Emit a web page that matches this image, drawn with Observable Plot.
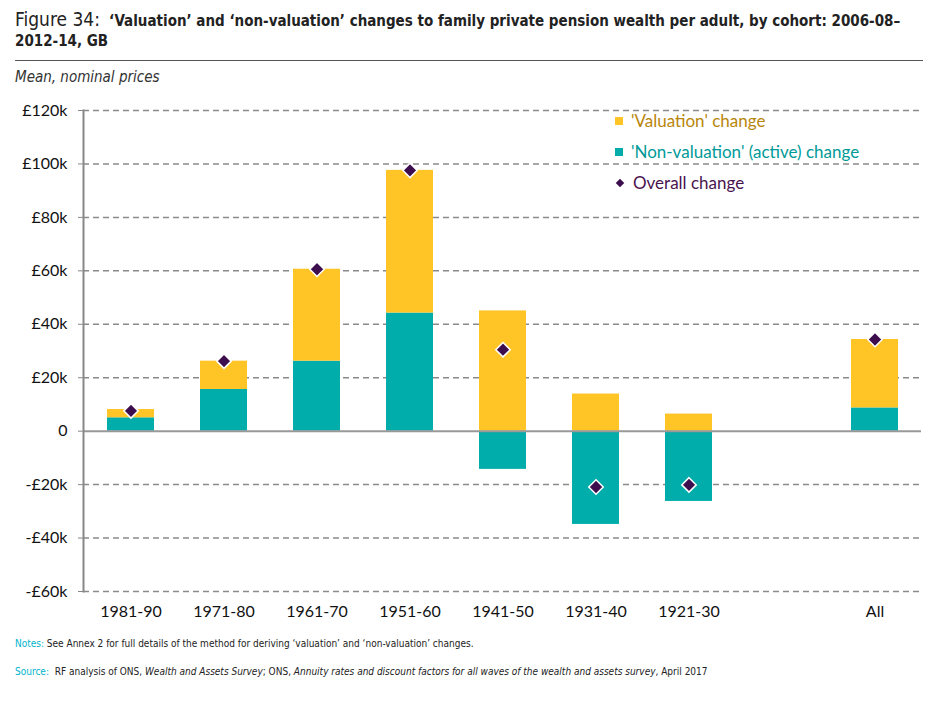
<!DOCTYPE html>
<html>
<head>
<meta charset="utf-8">
<script src="https://cdn.jsdelivr.net/npm/d3@7"></script>
<script src="https://cdn.jsdelivr.net/npm/@observablehq/plot@0.6"></script>
<style>
  body { margin: 0; background: #fff; font-family: Lato, "Open Sans", sans-serif; }
  #page { width: 938px; height: 708px; position: relative; overflow: hidden; }
  #header { position: relative; height: 95px; }
  .title1 { position: absolute; left: 15px; top: 8px; color: #222; white-space: nowrap;
            font-family: "Liberation Sans Narrow", "DejaVu Sans Condensed", "Liberation Sans", sans-serif; }
  .title1 .fig { font-size: 19px; font-weight: normal; }
  .title1 .rest { font-size: 15px; font-weight: bold; }
  .title2 { position: absolute; left: 15px; top: 32px; color: #222; font-size: 15px; font-weight: bold;
            font-family: "Liberation Sans Narrow", "DejaVu Sans Condensed", "Liberation Sans", sans-serif; }
  .rule { position: absolute; left: 15px; width: 908px; top: 60px; height: 0; border-top: 1.5px solid #555; }
  .sub { position: absolute; left: 15px; top: 68px; font-style: italic; font-size: 15px; color: #333;
         font-family: "Liberation Sans Narrow", "DejaVu Sans Condensed", sans-serif; }
  #chart { position: relative; height: 530px; }
  #legend { position: absolute; left: 615px; top: 15px; font-size: 17px; }
  #legend .row { position: absolute; left: 0; white-space: nowrap; display: flex; align-items: center; }
  #legend .sw { display: inline-block; width: 8px; height: 8px; margin-right: 8px; }
  #legend .dm { display: inline-block; width: 6px; height: 6px; transform: rotate(45deg); margin: 0 10px 0 2px; }
  #footer { position: relative; font-size: 10px; color: #222;
            font-family: "Liberation Sans Narrow", "DejaVu Sans Condensed", sans-serif; }
  #footer .lab { color: #00b4cc; }
</style>
</head>
<body>
<div id="page">
  <div id="header">
    <div class="title1"><span class="fig">Figure 34:</span>&nbsp; <span class="rest">‘Valuation’ and ‘non-valuation’ changes to family private pension wealth per adult, by cohort: 2006-08–</span></div>
    <div class="title2">2012-14, GB</div>
    <div class="rule"></div>
    <div class="sub">Mean, nominal prices</div>
  </div>
  <div id="chart"></div>
  <div id="footer">
    <div style="position:absolute; left:15px; top:13px;"><span class="lab">Notes:</span> See Annex 2 for full details of the method for deriving ‘valuation’ and ‘non-valuation’ changes.</div>
    <div style="position:absolute; left:15px; top:41px;"><span class="lab">Source:</span>&nbsp; RF analysis of ONS, <i>Wealth and Assets Survey</i>; ONS, <i>Annuity rates and discount factors for all waves of the wealth and assets survey</i>, April 2017</div>
  </div>
</div>
<script>
// Data (values in £ thousands)
const cohorts = ["1981-90", "1971-80", "1961-70", "1951-60", "1941-50", "1931-40", "1921-30", "All"];
const valuation = [3.1, 10.6, 34.4, 53.4, 45.0, 13.9, 6.4, 25.6];
const nonValuation = [5.0, 15.6, 26.2, 44.2, -14.3, -34.9, -26.3, 8.7];
const overall = [7.6, 26.2, 60.6, 97.6, 30.5, -20.9, -20.1, 34.3];
const yTicks = [-60, -40, -20, 0, 20, 40, 60, 80, 100, 120];

const seriesNames = ["'Non-valuation' (active) change", "'Valuation' change"];
const colors = { "'Valuation' change": "#FFC425", "'Non-valuation' (active) change": "#00ADAA" };

// spacer slot between 1921-30 and All
const xDomain = [...cohorts.slice(0, 7), " ", cohorts[7]];

const rows = [];
cohorts.forEach((c, i) => {
  rows.push({ cohort: c, series: seriesNames[0], value: nonValuation[i] });
  rows.push({ cohort: c, series: seriesNames[1], value: valuation[i] });
});
const overallRows = cohorts.map((c, i) => ({ cohort: c, value: overall[i] }));

const fmt = d => d === 0 ? "0" : (d < 0 ? "-" : "") + "£" + Math.abs(d) + "k";

const chart = Plot.plot({
  width: 938,
  height: 530,
  marginTop: 15,
  marginBottom: 34,
  marginLeft: 83,
  marginRight: 17,
  style: { fontFamily: "Lato, 'Open Sans', sans-serif", fontSize: "16px", color: "#111", background: "white" },
  x: { domain: xDomain, paddingInner: 0.5, paddingOuter: 0.25, axis: null, label: null },
  y: { domain: [-60, 120], axis: null, label: null },
  color: { domain: Object.keys(colors), range: Object.values(colors) },
  marks: [
    Plot.gridY(yTicks.filter(d => d !== 0), { stroke: "#8a8a8a", strokeOpacity: 1, strokeWidth: 1.5, strokeDasharray: "6,4" }),
    Plot.barY(rows, { x: "cohort", y: "value", fill: "series", order: seriesNames }),
    Plot.ruleY([0], { stroke: "#999", strokeWidth: 2 }),
    Plot.frame({ anchor: "left", stroke: "#888", strokeWidth: 2 }),
    Plot.axisY(yTicks, { tickSize: 5, tickPadding: 11, tickFormat: fmt, stroke: "#888", fontSize: 16, fill: "#111", label: null }),
    Plot.axisX(cohorts, { tickSize: 0, tickPadding: 14, fontSize: 16, fill: "#111", label: null }),
    Plot.dot(overallRows, { x: "cohort", y: "value", symbol: "diamond2", r: 6.5, fill: "#3D0E4E", stroke: "white", strokeWidth: 1.5 })
  ]
});
document.getElementById("chart").appendChild(chart);

// Legend overlay
const legend = document.createElement("div");
legend.id = "legend";
const items = [
  { label: "'Valuation' change", color: colors["'Valuation' change"], text: "#B8860B", kind: "sq" },
  { label: "'Non-valuation' (active) change", color: colors["'Non-valuation' (active) change"], text: "#009A98", kind: "sq" },
  { label: "Overall change", color: "#3D0E4E", text: "#4A1450", kind: "dm" }
];
items.forEach((it, i) => {
  const r = document.createElement("div");
  r.className = "row";
  r.style.top = (i * 31) + "px";
  const s = document.createElement("span");
  s.className = it.kind === "sq" ? "sw" : "dm";
  s.style.background = it.color;
  const t = document.createElement("span");
  t.textContent = it.label;
  t.style.color = it.text;
  r.appendChild(s); r.appendChild(t);
  legend.appendChild(r);
});
document.getElementById("chart").appendChild(legend);
</script>
</body>
</html>
